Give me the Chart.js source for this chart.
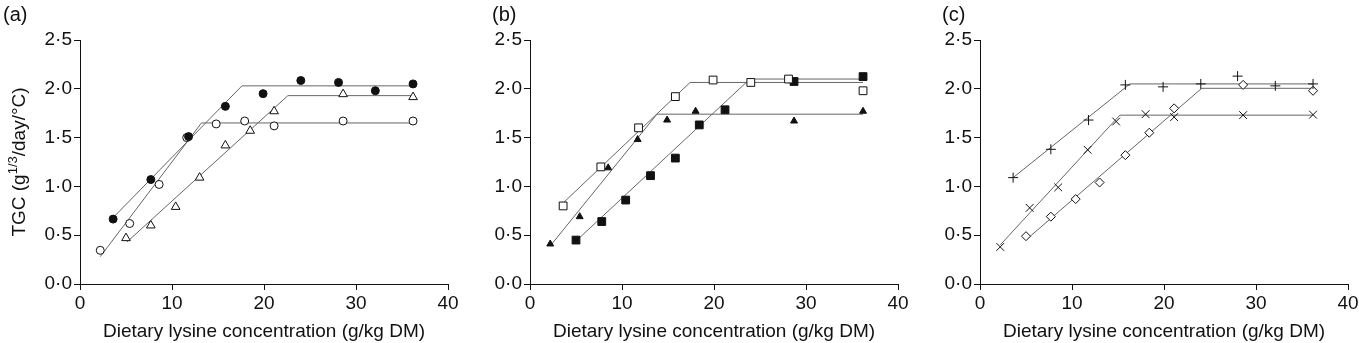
<!DOCTYPE html>
<html>
<head>
<meta charset="utf-8">
<script src="https://cdn.jsdelivr.net/npm/chart.js@4.4.1/dist/chart.umd.min.js"></script>
<style>
  html, body { margin: 0; padding: 0; background: #fff; }
  #wrap { position: relative; width: 1359px; height: 343px; background: #fff; overflow: hidden; }
  #wrap canvas { position: absolute; top: 0; }
</style>
</head>
<body>
<div id="wrap">
  <canvas id="chartA" width="459" height="343" style="left:0px"></canvas>
  <canvas id="chartB" width="459" height="343" style="left:450px"></canvas>
  <canvas id="chartC" width="459" height="343" style="left:900px"></canvas>
</div>
<script>
// ---- data (x: lysine g/kg DM, y: TGC) ----
const xTicks = [0, 10, 20, 30, 40];
const yTickLabels = ['0·0', '0·5', '1·0', '1·5', '2·0', '2·5'];

// panel (a)
const aFilledCircleX = [3.6, 7.7, 11.8, 15.8, 19.9, 24.0, 28.1, 32.1, 36.2];
const aFilledCircleY = [0.665, 1.07, 1.51, 1.82, 1.95, 2.085, 2.065, 1.98, 2.05];
const aOpenCircleX = [2.2, 5.4, 8.6, 11.6, 14.8, 17.9, 21.1, 28.6, 36.2];
const aOpenCircleY = [0.345, 0.62, 1.02, 1.50, 1.64, 1.67, 1.62, 1.67, 1.67];
const aTriangleX = [5.0, 7.7, 10.4, 13.0, 15.8, 18.5, 21.1, 28.6, 36.2];
const aTriangleY = [0.47, 0.60, 0.79, 1.09, 1.42, 1.57, 1.77, 1.945, 1.915];
const aFitFilledCircleX = [3.6, 17.6, 36.2];
const aFitFilledCircleY = [0.68, 2.03, 2.03];
const aFitOpenCircleX = [2.2, 13.2, 36.2];
const aFitOpenCircleY = [0.28, 1.65, 1.65];
const aFitTriangleX = [5.1, 22.6, 36.2];
const aFitTriangleY = [0.43, 1.93, 1.93];

// panel (b)
const bOpenSquareX = [3.6, 7.7, 11.8, 15.8, 19.9, 24.0, 28.1, 36.2];
const bOpenSquareY = [0.80, 1.20, 1.60, 1.92, 2.09, 2.065, 2.10, 1.98];
const bFilledTriangleX = [2.2, 5.4, 8.5, 11.7, 14.9, 18.0, 28.7, 36.2];
const bFilledTriangleY = [0.41, 0.69, 1.19, 1.48, 1.68, 1.77, 1.67, 1.77];
const bFilledSquareX = [5.0, 7.8, 10.4, 13.1, 15.8, 18.4, 21.2, 28.7, 36.2];
const bFilledSquareY = [0.45, 0.64, 0.86, 1.11, 1.29, 1.63, 1.785, 2.075, 2.125];
const bFitOpenSquareX = [3.6, 17.4, 36.2];
const bFitOpenSquareY = [0.83, 2.065, 2.065];
const bFitFilledTriangleX = [2.2, 13.8, 36.2];
const bFitFilledTriangleY = [0.39, 1.74, 1.74];
const bFitFilledSquareX = [5.0, 23.9, 36.2];
const bFitFilledSquareY = [0.44, 2.10, 2.10];

// panel (c)
const cPlusX = [3.6, 7.7, 11.8, 15.8, 19.9, 24.0, 28.0, 32.1, 36.2];
const cPlusY = [1.09, 1.38, 1.68, 2.04, 2.02, 2.05, 2.13, 2.03, 2.05];
const cCrossX = [2.2, 5.4, 8.5, 11.7, 14.8, 18.0, 21.1, 28.6, 36.2];
const cCrossY = [0.38, 0.78, 0.99, 1.375, 1.665, 1.74, 1.71, 1.73, 1.735];
const cDiamondX = [5.0, 7.7, 10.4, 13.0, 15.8, 18.4, 21.1, 28.6, 36.2];
const cDiamondY = [0.49, 0.69, 0.87, 1.04, 1.32, 1.55, 1.80, 2.04, 1.98];
const cFitPlusX = [3.6, 16.3, 36.2];
const cFitPlusY = [1.09, 2.05, 2.05];
const cFitCrossX = [2.2, 15.2, 36.2];
const cFitCrossY = [0.40, 1.73, 1.73];
const cFitDiamondX = [5.1, 24.1, 36.2];
const cFitDiamondY = [0.46, 2.005, 2.005];

const FONT = 'Liberation Sans, Arial, Helvetica, sans-serif';
const INK = '#111';
const LINE = '#666';

const pts = (xs, ys) => xs.map((x, i) => ({x: x, y: ys[i]}))

const markers = (xs, ys, style, filled, radius) => ({
    type: 'scatter',
    data: pts(xs, ys),
    pointStyle: style,
    pointRadius: radius || 4,
    pointBorderWidth: 1,
    pointBorderColor: INK,
    pointBackgroundColor: filled ? INK : '#fff',
    showLine: false,
    order: 0,
})

const fit = (xs, ys) => ({
    type: 'line',
    data: pts(xs, ys),
    borderColor: LINE,
    borderWidth: 1,
    pointRadius: 0,
    fill: false,
    tension: 0,
    order: 1,
})

// panel letter plus optional y title with a superscript
const decorations = {
    id: 'decorations',
    afterDraw(chart, args, opts) {
        const ctx = chart.ctx;
        ctx.save();
        ctx.fillStyle = INK;
        ctx.textBaseline = 'middle';
        ctx.textAlign = 'left';
        ctx.font = '20px ' + FONT;
        ctx.fillText(opts.letter, opts.letterX, 15);
        if (opts.yTitle) {
            const area = chart.chartArea;
            ctx.translate(20, (area.top + area.bottom) / 2);
            ctx.rotate(-Math.PI / 2);
            const big = '19px ' + FONT, small = '13px ' + FONT;
            const parts = [['TGC (g', big, 0], ['1/3', small, -7], ['/day/°C)', big, 0]];
            let total = 0;
            parts.forEach(p => { ctx.font = p[1]; total += ctx.measureText(p[0]).width; });
            let x = -total / 2;
            parts.forEach(p => {
                ctx.font = p[1];
                ctx.fillText(p[0], x, p[2]);
                x += ctx.measureText(p[0]).width;
            });
        }
        ctx.restore();
    }
}

const makeChart = (id, datasets, letter, letterX, yTitle) => {
    const ctx = document.getElementById(id).getContext('2d');
    return new Chart(ctx, {
        type: 'scatter',
        data: {datasets: datasets},
        plugins: [decorations],
        options: {
            responsive: false,
            animation: false,
            devicePixelRatio: 1,
            layout: {padding: {left: 0, right: 11, top: 40, bottom: 0}},
            plugins: {
                legend: {display: false},
                tooltip: {enabled: false},
                decorations: {letter: letter, letterX: letterX, yTitle: yTitle},
            },
            scales: {
                x: {
                    type: 'linear',
                    min: 0,
                    max: 40,
                    afterBuildTicks: s => { s.ticks = xTicks.map(v => ({value: v})); },
                    afterFit: s => { s.height = 59; s.paddingLeft = 0; s.paddingRight = 0; },
                    border: {display: true, color: INK, width: 1},
                    grid: {drawOnChartArea: false, drawTicks: true, tickLength: 6, color: INK},
                    ticks: {color: INK, padding: 2, maxRotation: 0, font: {family: FONT, size: 19}},
                    title: {
                        display: true,
                        text: 'Dietary lysine concentration (g/kg DM)',
                        color: INK,
                        padding: {top: 0, bottom: 0},
                        font: {family: FONT, size: 19},
                    },
                },
                y: {
                    type: 'linear',
                    min: 0,
                    max: 2.5,
                    ticks: {
                        stepSize: 0.5,
                        color: INK,
                        padding: 2,
                        font: {family: FONT, size: 19},
                        callback: (v) => yTickLabels[Math.round(v / 0.5)],
                    },
                    afterFit: s => { s.width = 80; s.paddingTop = 0; s.paddingBottom = 0; },
                    border: {display: true, color: INK, width: 1},
                    grid: {drawOnChartArea: false, drawTicks: true, tickLength: 6, color: INK},
                },
            },
        },
    });
}

makeChart('chartA', [
    markers(aFilledCircleX, aFilledCircleY, 'circle', true),
    markers(aOpenCircleX, aOpenCircleY, 'circle', false),
    markers(aTriangleX, aTriangleY, 'triangle', false, 5),
    fit(aFitFilledCircleX, aFitFilledCircleY),
    fit(aFitOpenCircleX, aFitOpenCircleY),
    fit(aFitTriangleX, aFitTriangleY),
], '(a)', 3, true)

makeChart('chartB', [
    markers(bOpenSquareX, bOpenSquareY, 'rect', false, 5.5),
    markers(bFilledTriangleX, bFilledTriangleY, 'triangle', true),
    markers(bFilledSquareX, bFilledSquareY, 'rect', true, 5.5),
    fit(bFitOpenSquareX, bFitOpenSquareY),
    fit(bFitFilledTriangleX, bFitFilledTriangleY),
    fit(bFitFilledSquareX, bFitFilledSquareY),
], '(b)', 42, false)

makeChart('chartC', [
    markers(cPlusX, cPlusY, 'cross', false, 5),
    markers(cCrossX, cCrossY, 'crossRot', false, 5.5),
    markers(cDiamondX, cDiamondY, 'rectRot', false, 4.5),
    fit(cFitPlusX, cFitPlusY),
    fit(cFitCrossX, cFitCrossY),
    fit(cFitDiamondX, cFitDiamondY),
], '(c)', 42, false)
</script>
</body>
</html>
